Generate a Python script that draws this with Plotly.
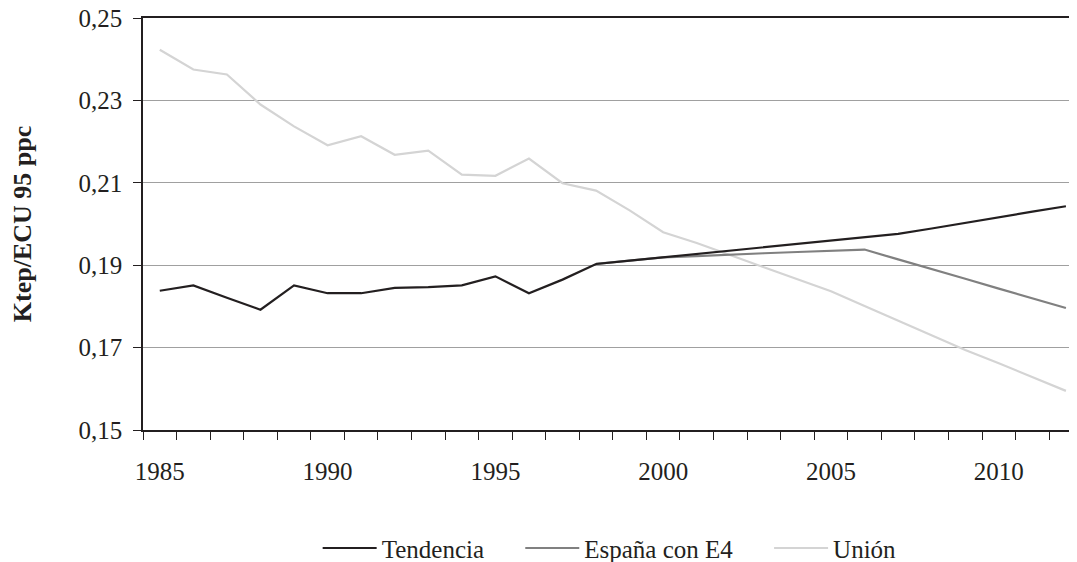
import plotly.graph_objects as go

years = list(range(1985, 2013))

tendencia = [0.1838, 0.1851, 0.1821, 0.1792, 0.1851, 0.1832, 0.1832, 0.1845, 0.1847, 0.1851,
             0.1873, 0.1832, 0.1865, 0.1903, 0.1911, 0.1919, 0.1927, 0.1936, 0.1944, 0.1952,
             0.1960, 0.1968, 0.1976, 0.1989, 0.2003, 0.2016, 0.2030, 0.2043]

espana_years = list(range(1998, 2013))
espana = [0.1903, 0.1911, 0.1919, 0.1922, 0.1926, 0.1929, 0.1932, 0.1935, 0.1938,
          0.1914, 0.1891, 0.1867, 0.1843, 0.1820, 0.1796]

union = [0.2423, 0.2375, 0.2363, 0.2290, 0.2237, 0.2191, 0.2213, 0.2168, 0.2178, 0.2120,
         0.2117, 0.2159, 0.2099, 0.2081, 0.2033, 0.1980, 0.1954, 0.1924, 0.1895, 0.1866,
         0.1837, 0.1801, 0.1765, 0.1729, 0.1694, 0.1662, 0.1629, 0.1595]

y_ticks = [0.15, 0.17, 0.19, 0.21, 0.23, 0.25]
y_ticktext = ["0,15", "0,17", "0,19", "0,21", "0,23", "0,25"]
x_ticks = [1985, 1990, 1995, 2000, 2005, 2010]
x_ticktext = ["1985", "1990", "1995", "2000", "2005", "2010"]
x_minor = [y - 0.5 for y in range(1985, 2014)]

names = ["Tendencia", "España con E4", "Unión"]
colors = ["#231f20", "#808080", "#d4d4d4"]

FONT = "Liberation Serif"
DARK = "#231f20"
pad = "\u00a0" * 5

fig = go.Figure()
# draw order: Unión bottom, España middle, Tendencia on top
fig.add_trace(go.Scatter(x=years, y=union, mode="lines", name=names[2],
                         line=dict(color=colors[2], width=2.2), legendrank=3))
fig.add_trace(go.Scatter(x=espana_years, y=espana, mode="lines", name=names[1] + pad,
                         line=dict(color=colors[1], width=2.2), legendrank=2))
fig.add_trace(go.Scatter(x=years, y=tendencia, mode="lines", name=names[0] + pad,
                         line=dict(color=colors[0], width=2.2), legendrank=1))

fig.update_layout(
    width=1069, height=554,
    margin=dict(l=135, r=0, t=10, b=132, autoexpand=False),
    paper_bgcolor="white", plot_bgcolor="white",
    font=dict(family=FONT, size=25, color=DARK),
    showlegend=True,
    legend=dict(orientation="h", x=0.187, xanchor="left", y=-0.287, yanchor="middle",
                font=dict(family=FONT, size=25, color=DARK), itemwidth=54,
                bgcolor="rgba(0,0,0,0)"),
)

fig.update_xaxes(
    range=[1984.5, 2012.33],
    automargin=False,
    tickvals=x_ticks, ticktext=x_ticktext, ticks="",
    showgrid=False, zeroline=False,
    showline=True, linecolor=DARK, linewidth=1.6, mirror=True,
    ticklabelstandoff=18, ticklabeloverflow="allow",
    tickfont=dict(family=FONT, size=25, color=DARK),
    minor=dict(tickmode="array", tickvals=x_minor, ticks="outside", ticklen=8,
               tickcolor=DARK, tickwidth=1.4, showgrid=False),
)

fig.update_yaxes(
    range=[0.15, 0.2500001],
    automargin=False,
    tickvals=y_ticks, ticktext=y_ticktext,
    ticks="outside", ticklen=8, tickcolor=DARK, tickwidth=1.4,
    showgrid=True, gridcolor="#a0a0a0", gridwidth=1.2,
    zeroline=False,
    showline=True, linecolor=DARK, linewidth=1.6,
    ticklabelstandoff=6, ticklabeloverflow="allow",
    tickfont=dict(family=FONT, size=25, color=DARK),
    title=dict(text="<b>Ktep/ECU 95 ppc</b>", standoff=40,
               font=dict(family=FONT, size=26, color=DARK)),
)

fig.write_html("out.html")
